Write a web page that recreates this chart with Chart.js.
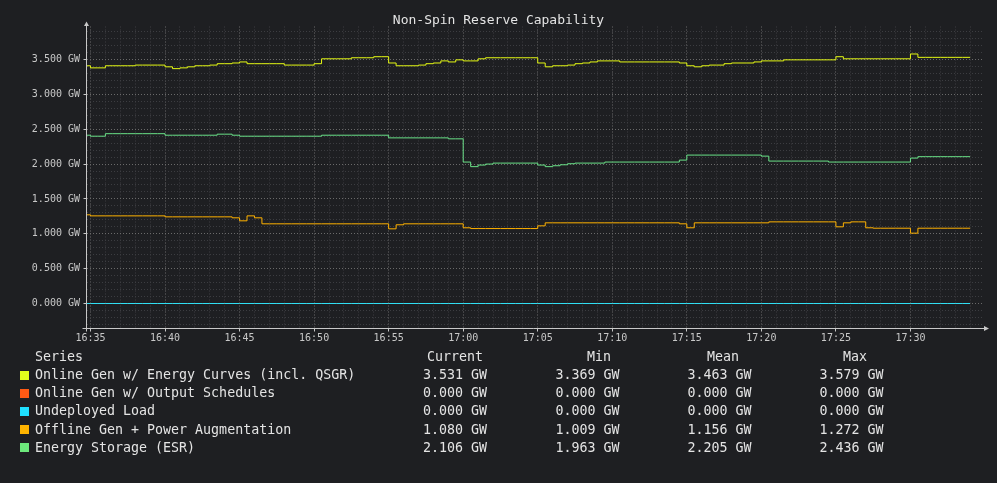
<!DOCTYPE html>
<html>
<head>
<meta charset="utf-8">
<script src="https://cdn.jsdelivr.net/npm/chart.js@4/dist/chart.umd.min.js"></script>
<style>
html,body{margin:0;padding:0;background:#1e1f22;}
#wrap{position:relative;width:997px;height:483px;overflow:hidden;background:#1e1f22;font-family:'DejaVu Sans Mono',monospace;}
#c{position:absolute;left:0;top:0;}
#title{position:absolute;left:0;width:997px;top:12px;text-align:center;font-size:13px;line-height:16px;color:#e4e4e4;white-space:pre;}
.t{position:absolute;font-size:13.3px;line-height:18px;color:#e4e4e4;white-space:pre;}
.sq{position:absolute;width:9px;height:9px;}
</style>
</head>
<body>
<div id="wrap">
<canvas id="c" width="997" height="483"></canvas>
<div id="title">Non-Spin Reserve Capability</div>
<div id="legend"></div>
</div>
<script>
// ---------- DATA ----------
const chartTitle = 'Non-Spin Reserve Capability';
const axisStart = '16:34:44';
const axisEnd = '17:34:56';
const times = [
"16:34:30",
"16:35:00","16:35:30","16:36:00","16:36:30","16:37:00","16:37:30","16:38:00","16:38:30","16:39:00","16:39:30",
"16:40:00","16:40:30","16:41:00","16:41:30","16:42:00","16:42:30","16:43:00","16:43:30","16:44:00","16:44:30",
"16:45:00","16:45:30","16:46:00","16:46:30","16:47:00","16:47:30","16:48:00","16:48:30","16:49:00","16:49:30",
"16:50:00","16:50:30","16:51:00","16:51:30","16:52:00","16:52:30","16:53:00","16:53:30","16:54:00","16:54:30",
"16:55:00","16:55:30","16:56:00","16:56:30","16:57:00","16:57:30","16:58:00","16:58:30","16:59:00","16:59:30",
"17:00:00","17:00:30","17:01:00","17:01:30","17:02:00","17:02:30","17:03:00","17:03:30","17:04:00","17:04:30",
"17:05:00","17:05:30","17:06:00","17:06:30","17:07:00","17:07:30","17:08:00","17:08:30","17:09:00","17:09:30",
"17:10:00","17:10:30","17:11:00","17:11:30","17:12:00","17:12:30","17:13:00","17:13:30","17:14:00","17:14:30",
"17:15:00","17:15:30","17:16:00","17:16:30","17:17:00","17:17:30","17:18:00","17:18:30","17:19:00","17:19:30",
"17:20:00","17:20:30","17:21:00","17:21:30","17:22:00","17:22:30","17:23:00","17:23:30","17:24:00","17:24:30",
"17:25:00","17:25:30","17:26:00","17:26:30","17:27:00","17:27:30","17:28:00","17:28:30","17:29:00","17:29:30",
"17:30:00","17:30:30","17:31:00","17:31:30","17:32:00","17:32:30","17:33:00","17:33:30","17:34:00"
];
// GW values (each holds from its timestamp to the next)
const onlineEnergyCurves = [
3.41,
3.38,3.38,3.41,3.41,3.41,3.41,3.42,3.42,3.42,3.42,
3.395,3.369,3.38,3.395,3.41,3.41,3.42,3.44,3.44,3.45,
3.465,3.44,3.44,3.44,3.44,3.44,3.42,3.42,3.42,3.42,
3.44,3.51,3.51,3.51,3.51,3.525,3.525,3.525,3.54,3.54,
3.45,3.41,3.41,3.41,3.42,3.44,3.45,3.48,3.465,3.495,
3.48,3.48,3.51,3.525,3.525,3.525,3.525,3.525,3.525,3.525,
3.45,3.395,3.41,3.41,3.42,3.44,3.45,3.465,3.48,3.48,
3.48,3.465,3.465,3.465,3.465,3.465,3.465,3.465,3.465,3.45,
3.41,3.395,3.41,3.42,3.42,3.44,3.45,3.45,3.45,3.465,
3.48,3.48,3.48,3.495,3.495,3.495,3.495,3.495,3.495,3.495,
3.54,3.51,3.51,3.51,3.51,3.51,3.51,3.51,3.51,3.51,
3.579,3.531,3.531,3.531,3.531,3.531,3.531,3.531,3.531
];
const onlineOutputSchedules = [
0,
0,0,0,0,0,0,0,0,0,0, 0,0,0,0,0,0,0,0,0,0, 0,0,0,0,0,0,0,0,0,0,
0,0,0,0,0,0,0,0,0,0, 0,0,0,0,0,0,0,0,0,0, 0,0,0,0,0,0,0,0,0,0,
0,0,0,0,0,0,0,0,0,0, 0,0,0,0,0,0,0,0,0,0, 0,0,0,0,0,0,0,0,0,0,
0,0,0,0,0,0,0,0,0,0, 0,0,0,0,0,0,0,0,0,0, 0,0,0,0,0,0,0,0,0
];
const undeployedLoad = [
0,
0,0,0,0,0,0,0,0,0,0, 0,0,0,0,0,0,0,0,0,0, 0,0,0,0,0,0,0,0,0,0,
0,0,0,0,0,0,0,0,0,0, 0,0,0,0,0,0,0,0,0,0, 0,0,0,0,0,0,0,0,0,0,
0,0,0,0,0,0,0,0,0,0, 0,0,0,0,0,0,0,0,0,0, 0,0,0,0,0,0,0,0,0,0,
0,0,0,0,0,0,0,0,0,0, 0,0,0,0,0,0,0,0,0,0, 0,0,0,0,0,0,0,0,0
];
const offlineGenPowerAug = [
1.272,
1.257,1.257,1.257,1.257,1.257,1.257,1.257,1.257,1.257,1.257,
1.243,1.243,1.243,1.243,1.243,1.243,1.243,1.243,1.243,1.229,
1.186,1.257,1.229,1.143,1.143,1.143,1.143,1.143,1.143,1.143,
1.143,1.143,1.143,1.143,1.143,1.143,1.143,1.143,1.143,1.143,
1.071,1.129,1.143,1.143,1.143,1.143,1.143,1.143,1.143,1.143,
1.086,1.075,1.075,1.075,1.075,1.075,1.075,1.075,1.075,1.075,
1.114,1.157,1.157,1.157,1.157,1.157,1.157,1.157,1.157,1.157,
1.157,1.157,1.157,1.157,1.157,1.157,1.157,1.157,1.157,1.143,
1.086,1.157,1.157,1.157,1.157,1.157,1.157,1.157,1.157,1.157,
1.157,1.171,1.171,1.171,1.171,1.171,1.171,1.171,1.171,1.171,
1.10,1.157,1.171,1.171,1.086,1.08,1.08,1.08,1.08,1.08,
1.009,1.08,1.08,1.08,1.08,1.08,1.08,1.08,1.08
];
const energyStorage = [
2.414,
2.40,2.40,2.436,2.436,2.436,2.436,2.436,2.436,2.436,2.436,
2.414,2.414,2.414,2.414,2.414,2.414,2.414,2.429,2.429,2.414,
2.40,2.40,2.40,2.40,2.40,2.40,2.40,2.40,2.40,2.40,
2.40,2.414,2.414,2.414,2.414,2.414,2.414,2.414,2.414,2.414,
2.376,2.376,2.376,2.376,2.376,2.376,2.376,2.376,2.362,2.362,
2.029,1.963,1.986,2.0,2.014,2.014,2.014,2.014,2.014,2.014,
1.986,1.963,1.976,1.99,2.005,2.014,2.014,2.014,2.014,2.029,
2.029,2.029,2.029,2.029,2.029,2.029,2.029,2.029,2.029,2.057,
2.129,2.129,2.129,2.129,2.129,2.129,2.129,2.129,2.129,2.129,
2.114,2.043,2.043,2.043,2.043,2.043,2.043,2.043,2.043,2.029,
2.029,2.029,2.029,2.029,2.029,2.029,2.029,2.029,2.029,2.029,
2.086,2.106,2.106,2.106,2.106,2.106,2.106,2.106,2.106
];
const seriesNames = ['Online Gen w/ Energy Curves (incl. QSGR)','Online Gen w/ Output Schedules','Undeployed Load','Offline Gen + Power Augmentation','Energy Storage (ESR)'];
const statCurrent = ['3.531 GW','0.000 GW','0.000 GW','1.080 GW','2.106 GW'];
const statMin     = ['3.369 GW','0.000 GW','0.000 GW','1.009 GW','1.963 GW'];
const statMean    = ['3.463 GW','0.000 GW','0.000 GW','1.156 GW','2.205 GW'];
const statMax     = ['3.579 GW','0.000 GW','0.000 GW','1.272 GW','2.436 GW'];
const statHeaders = ['Series','Current','Min','Mean','Max'];
const xTickLabels = ['16:35','16:40','16:45','16:50','16:55','17:00','17:05','17:10','17:15','17:20','17:25','17:30'];
const yTickLabels = ['0.000 GW','0.500 GW','1.000 GW','1.500 GW','2.000 GW','2.500 GW','3.000 GW','3.500 GW'];
const yMin = -0.35861, yMax = 3.97344;

// ---------- STYLE ----------
const colors = ['#e2ff1c','#ff5a14','#1fe0ff','#ffb400','#6de87c'];
const lineColors = ['#e6fa14','#ff5a14','#2ee0f5','#ffb200','#6ae288'];
const AXIS = '#c8c8c8', TXT = '#c8c8c8', MAJ = '#6a6a6a', MINC = '#3c3d41';

const toMin = s => { const p = s.split(':').map(Number); return p[0]*60 + p[1] + p[2]/60 - (16*60 + 35); };
const xs = times.map(toMin);
const seriesValues = [onlineEnergyCurves, onlineOutputSchedules, undeployedLoad, offlineGenPowerAug, energyStorage];
const orders = [1, 2, 0, 1, 1];

const datasets = seriesValues.map((vals, i) => ({
  label: seriesNames[i],
  data: vals.map((v, k) => ({x: xs[k], y: v})),
  borderColor: lineColors[i],
  backgroundColor: lineColors[i],
  borderWidth: 1,
  pointRadius: 0,
  stepped: true,
  tension: 0,
  fill: false,
  clip: 0,
  order: orders[i]
}));

const isWhole = v => Math.abs(v - Math.round(v)) < 1e-6;
const xMajor = v => isWhole(v) && Math.round(v) % 5 === 0;
const yMajor = v => Math.round(v * 10) % 5 === 0;

const axesPlugin = {
  id: 'axesArrows',
  afterDraw(chart) {
    const {ctx, chartArea: a} = chart;
    ctx.save();
    ctx.strokeStyle = AXIS; ctx.fillStyle = AXIS; ctx.lineWidth = 1;
    ctx.beginPath();
    ctx.moveTo(a.left, a.bottom + 3); ctx.lineTo(a.left, a.top - 1);
    ctx.moveTo(a.left - 4, a.bottom); ctx.lineTo(a.right, a.bottom);
    ctx.stroke();
    ctx.beginPath();
    ctx.moveTo(a.left - 2.5, a.top - 0.5); ctx.lineTo(a.left + 2.5, a.top - 0.5); ctx.lineTo(a.left, a.top - 5); ctx.closePath();
    ctx.fill();
    ctx.beginPath();
    ctx.moveTo(a.right, a.bottom - 2.5); ctx.lineTo(a.right, a.bottom + 2.5); ctx.lineTo(a.right + 5, a.bottom); ctx.closePath();
    ctx.fill();
    ctx.restore();
  }
};

Chart.defaults.font.family = "'DejaVu Sans Mono', monospace";
Chart.defaults.font.size = 10;

const chart = new Chart(document.getElementById('c'), {
  type: 'line',
  data: { datasets },
  options: {
    responsive: false,
    animation: false,
    events: [],
    layout: { padding: { top: 26.5, right: 13, left: 0, bottom: 0 } },
    plugins: { legend: { display: false }, tooltip: { enabled: false }, title: { display: false } },
    scales: {
      x: {
        type: 'linear',
        min: toMin(axisStart),
        max: toMin(axisEnd),
        afterFit(s) { s.height = 154.5; },
        afterBuildTicks(s) { const t = []; for (let i = 0; i <= 59; i++) t.push({value: i}); s.ticks = t; },
        ticks: {
          autoSkip: false, maxRotation: 0, minRotation: 0, padding: 1, color: TXT,
          font: { size: 10 },
          callback: v => xMajor(v) ? xTickLabels[Math.round(v) / 5] : ''
        },
        grid: {
          color: c => xMajor(c.tick.value) ? MAJ : MINC,
          tickColor: c => xMajor(c.tick.value) ? AXIS : 'rgba(0,0,0,0)',
          tickLength: 3, lineWidth: 1
        },
        border: { display: false, dash: [1, 2] }
      },
      y: {
        type: 'linear',
        min: yMin,
        max: yMax,
        afterFit(s) { s.width = 86.5; },
        afterBuildTicks(s) { const t = []; for (let i = -3; i <= 39; i++) t.push({value: i / 10}); s.ticks = t; },
        ticks: {
          autoSkip: false, padding: 3.5, color: TXT,
          font: { size: 10 },
          callback: v => yMajor(v) && v >= 0 ? yTickLabels[Math.round(v * 2)] : ''
        },
        grid: {
          color: c => yMajor(c.tick.value) ? MAJ : MINC,
          tickColor: c => yMajor(c.tick.value) ? AXIS : 'rgba(0,0,0,0)',
          tickLength: 3, lineWidth: 1
        },
        border: { display: false, dash: [1, 2] }
      }
    }
  },
  plugins: [axesPlugin]
});

// ---------- LEGEND TABLE (HTML text) ----------
document.getElementById('title').textContent = chartTitle;
const leg = document.getElementById('legend');
const rowTop = i => 348 + i * 18.14;
const headerX = [35, 427, 587, 707, 843];
const valueX = [35, 423, 555.5, 687.5, 819.5];
function addText(txt, x, y) { const d = document.createElement('div'); d.className = 't'; d.style.left = x + 'px'; d.style.top = y + 'px'; d.textContent = txt; leg.appendChild(d); }
statHeaders.forEach((h, j) => addText(h, headerX[j], rowTop(0)));
seriesNames.forEach((n, i) => {
  const y = rowTop(i + 1);
  const sq = document.createElement('div'); sq.className = 'sq'; sq.style.left = '20px'; sq.style.top = (y + 4.5) + 'px'; sq.style.background = colors[i]; leg.appendChild(sq);
  addText(n, valueX[0], y);
  addText(statCurrent[i], valueX[1], y);
  addText(statMin[i], valueX[2], y);
  addText(statMean[i], valueX[3], y);
  addText(statMax[i], valueX[4], y);
});
</script>
</body>
</html>
